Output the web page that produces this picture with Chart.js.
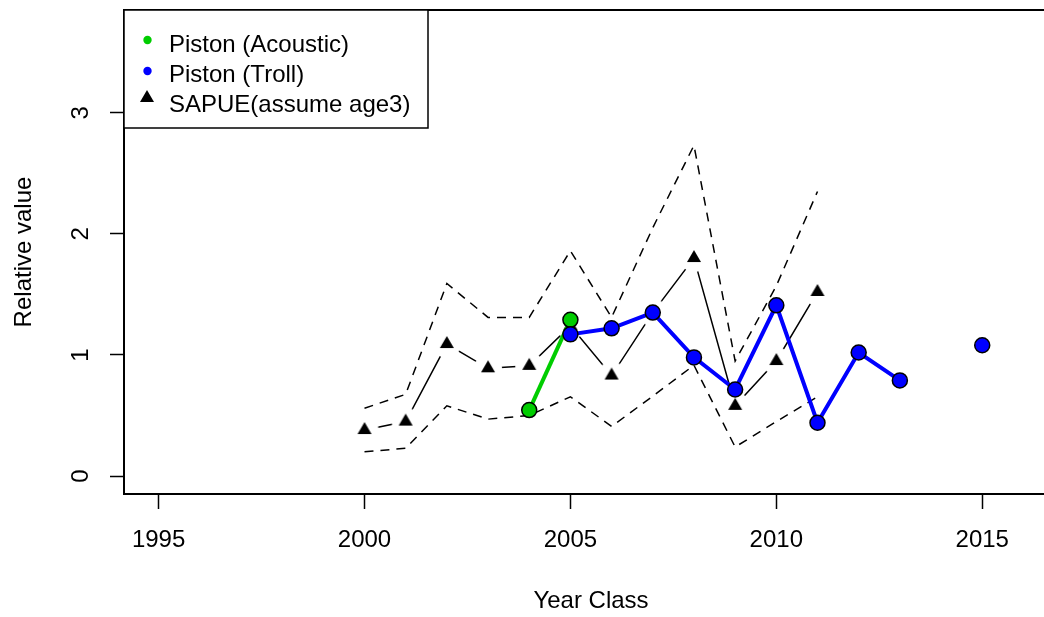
<!DOCTYPE html>
<html>
<head>
<meta charset="utf-8">
<script src="https://cdn.jsdelivr.net/npm/chart.js@4.4.1/dist/chart.umd.min.js"></script>
<style>
  html, body { margin: 0; padding: 0; background: #fff; overflow: hidden; }
  canvas { display: block; }
</style>
</head>
<body>
<!-- the plot frame runs past the right edge of the picture, so the canvas is wider than the window -->
<canvas id="chart" width="1072" height="617"></canvas>
<script>
// SAPUE index (assume age 3) with its upper / lower bounds
const sapueYears = [2000, 2001, 2002, 2003, 2004, 2005, 2006, 2007, 2008, 2009, 2010, 2011];
const sapueValues = [0.38, 0.45, 1.09, 0.89, 0.91, 1.24, 0.83, 1.35, 1.80, 0.58, 0.95, 1.52];
const sapueUpper = [0.56, 0.675, 1.59, 1.31, 1.31, 1.86, 1.31, 2.05, 2.73, 0.95, 1.57, 2.35];
const sapueLower = [0.20, 0.23, 0.58, 0.47, 0.50, 0.655, 0.41, 0.66, 0.915, 0.24, 0.45, 0.655];

// Piston surveys
const acousticYears = [2004, 2005];
const acousticValues = [0.545, 1.29];
const trollYears = [2005, 2006, 2007, 2008, 2009, 2010, 2011, 2012, 2013, 2014, 2015];
const trollValues = [1.17, 1.22, 1.35, 0.98, 0.715, 1.41, 0.44, 1.02, 0.79, null, 1.08];

const xTicks = [1995, 2000, 2005, 2010, 2015];
const yTicks = [0, 1, 2, 3];
const seriesNames = ["Piston (Acoustic)", "Piston (Troll)", "SAPUE(assume age3)"];

const FONT = "'Liberation Sans', Arial, Helvetica, sans-serif";

function toPoints(xs, ys) {
  return xs.map((x, i) => ({ x: x, y: ys[i] }));
}

// filled triangle (pch 17) with a white disc behind it, so the line stops short of the point
function triangleImage(gap) {
  const c = document.createElement("canvas");
  c.width = 30;
  c.height = 30;
  const g = c.getContext("2d");
  if (gap) {
    g.fillStyle = "#fff";
    g.beginPath();
    g.arc(15, 15, 14, 0, Math.PI * 2);
    g.fill();
  }
  g.fillStyle = "#000";
  g.beginPath();
  g.moveTo(15, 15 - 8.1);
  g.lineTo(22, 15 + 4.05);
  g.lineTo(8, 15 + 4.05);
  g.closePath();
  g.fill();
  return c;
}

function noPadding(s) {
  s.paddingTop = 0;
  s.paddingBottom = 0;
  s.paddingLeft = 0;
  s.paddingRight = 0;
}

// plot frame + legend box, drawn after everything else
const framePlugin = {
  id: "frame",
  afterDraw(chart) {
    const ctx = chart.ctx;
    const a = chart.chartArea;
    ctx.save();
    ctx.strokeStyle = "#000";
    ctx.lineWidth = 2;
    ctx.strokeRect(a.left, a.top, a.right - a.left, a.bottom - a.top);

    // legend (top left corner of the plot)
    const lx = a.left, ly = a.top, lw = 304, lh = 118;
    ctx.fillStyle = "#fff";
    ctx.fillRect(lx, ly, lw, lh);
    ctx.lineWidth = 1.5;
    ctx.strokeRect(lx, ly, lw, lh);

    const ds = chart.data.datasets;
    const rows = [30, 61, 88];
    const baselines = [42, 72, 102];
    ctx.font = "24px " + FONT;
    ctx.textBaseline = "alphabetic";
    ctx.textAlign = "left";
    [ds[0], ds[1]].forEach((d, i) => {
      ctx.fillStyle = d.pointBackgroundColor;
      ctx.beginPath();
      ctx.arc(lx + 23.5, ly + rows[i], 4.2, 0, Math.PI * 2);
      ctx.fill();
    });
    ctx.drawImage(triangleImage(false), lx + 23 - 15, ly + rows[2] - 15);
    ctx.fillStyle = "#000";
    seriesNames.forEach((name, i) => {
      ctx.fillText(name, lx + 45, ly + baselines[i]);
    });
    ctx.restore();
  }
};

const ctx = document.getElementById("chart").getContext("2d");

new Chart(ctx, {
  type: "line",
  data: {
    datasets: [
      {
        label: seriesNames[0],
        data: toPoints(acousticYears, acousticValues),
        borderColor: "#00CD00",
        borderWidth: 4,
        pointBackgroundColor: "#00CD00",
        pointBorderColor: "#000",
        pointBorderWidth: 1.5,
        pointRadius: 7.5,
        order: 2
      },
      {
        label: seriesNames[1],
        data: toPoints(trollYears, trollValues),
        borderColor: "#0000FF",
        borderWidth: 4,
        pointBackgroundColor: "#0000FF",
        pointBorderColor: "#000",
        pointBorderWidth: 1.5,
        pointRadius: 7.5,
        spanGaps: false,
        order: 1
      },
      {
        label: seriesNames[2],
        data: toPoints(sapueYears, sapueValues),
        borderColor: "#000",
        borderWidth: 1.5,
        pointStyle: triangleImage(true),
        pointRadius: 7,
        order: 5
      },
      {
        label: "upper",
        data: toPoints(sapueYears, sapueUpper),
        borderColor: "#000",
        borderWidth: 1.5,
        borderDash: [9, 7],
        pointRadius: 0,
        order: 4
      },
      {
        label: "lower",
        data: toPoints(sapueYears, sapueLower),
        borderColor: "#000",
        borderWidth: 1.5,
        borderDash: [9, 7],
        pointRadius: 0,
        order: 4
      }
    ]
  },
  options: {
    responsive: false,
    animation: false,
    devicePixelRatio: 1,
    tension: 0,
    layout: { padding: { left: 0, top: 10, right: 14, bottom: 0 } },
    plugins: {
      legend: { display: false },
      tooltip: { enabled: false }
    },
    scales: {
      x: {
        type: "linear",
        min: 1994.16,
        max: 2016.84,
        afterBuildTicks: s => { s.ticks = xTicks.map(v => ({ value: v })); },
        afterFit: s => { s.height = 123; noPadding(s); },
        grid: { drawOnChartArea: false, drawTicks: true, tickLength: 15, tickWidth: 1.5, tickColor: "#000", color: "#000" },
        border: { display: false },
        ticks: {
          color: "#000",
          font: { family: FONT, size: 24 },
          padding: 17,
          maxRotation: 0,
          autoSkip: false,
          callback: v => String(v)
        },
        title: {
          display: true,
          text: "Year Class",
          color: "#000",
          font: { family: FONT, size: 24 },
          padding: { top: 0, bottom: 1 }
        }
      },
      y: {
        type: "linear",
        min: -0.148,
        max: 3.848,
        afterBuildTicks: s => { s.ticks = yTicks.map(v => ({ value: v })); },
        afterFit: s => { s.width = 124; noPadding(s); },
        grid: { drawOnChartArea: false, drawTicks: true, tickLength: 14, tickWidth: 1.5, tickColor: "#000", color: "#000" },
        border: { display: false },
        ticks: {
          color: "#000",
          font: { family: FONT, size: 24 },
          padding: 22,
          minRotation: 90,
          maxRotation: 90,
          crossAlign: "center",
          autoSkip: false,
          callback: v => String(v)
        },
        title: {
          display: true,
          text: "Relative value",
          color: "#000",
          font: { family: FONT, size: 24 },
          padding: { top: 10, bottom: 0 }
        }
      }
    }
  },
  plugins: [framePlugin]
});
</script>
</body>
</html>
